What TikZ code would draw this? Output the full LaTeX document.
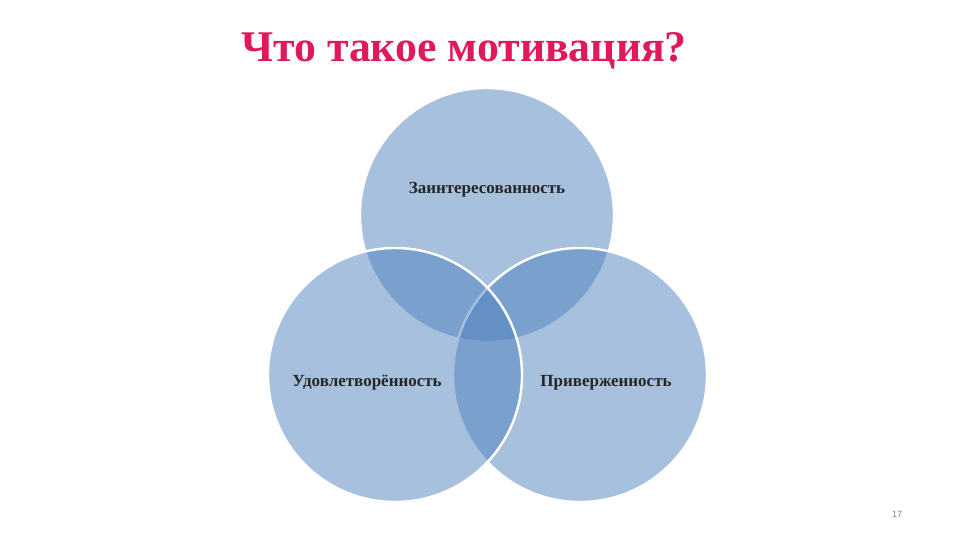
\documentclass[tikz,border=0pt]{standalone}
\usepackage{fontspec}
\setmainfont{Liberation Serif}
\setsansfont{Liberation Sans}
\usepackage{tikz}
\usetikzlibrary{positioning}
\definecolor{vennblue}{HTML}{4F81BD}
\definecolor{titlered}{HTML}{E0185C}

\begin{document}
\begin{tikzpicture}
    [
    x=0.5pt, y=-0.5pt,
    venn/.style={circle, minimum size=127pt, inner sep=0pt, fill=vennblue, fill opacity=0.5, draw=white, draw opacity=1, line width=1.2pt},
    lbl/.style={font=\fontsize{8.5}{10}\selectfont\bfseries, text=black!85},
    ]

    \useasboundingbox (0,0) rectangle (960,540);

    \node[font=\fontsize{21.9}{25}\selectfont\bfseries, text=titlered, anchor=base] (title) at (464,62)
    {Что такое мотивация?};

    % drawn top, right, left
    \node[venn] (circ_top) at (487,215) {};
    \node[venn] (circ_right) at (580,375) {};
    \node[venn] (circ_left) at (395,375) {};

    \node[lbl] (lbl_top) at (487,190) {Заинтересованность};
    \node[lbl] (lbl_left) at (367,383) {Удовлетворённость};
    \node[lbl] (lbl_right) at (606,383) {Приверженность};

    \node[font=\sffamily\fontsize{4.5}{5}\selectfont, text=gray] (page_num) at (897,514) {17};
\end{tikzpicture}
\end{document}
